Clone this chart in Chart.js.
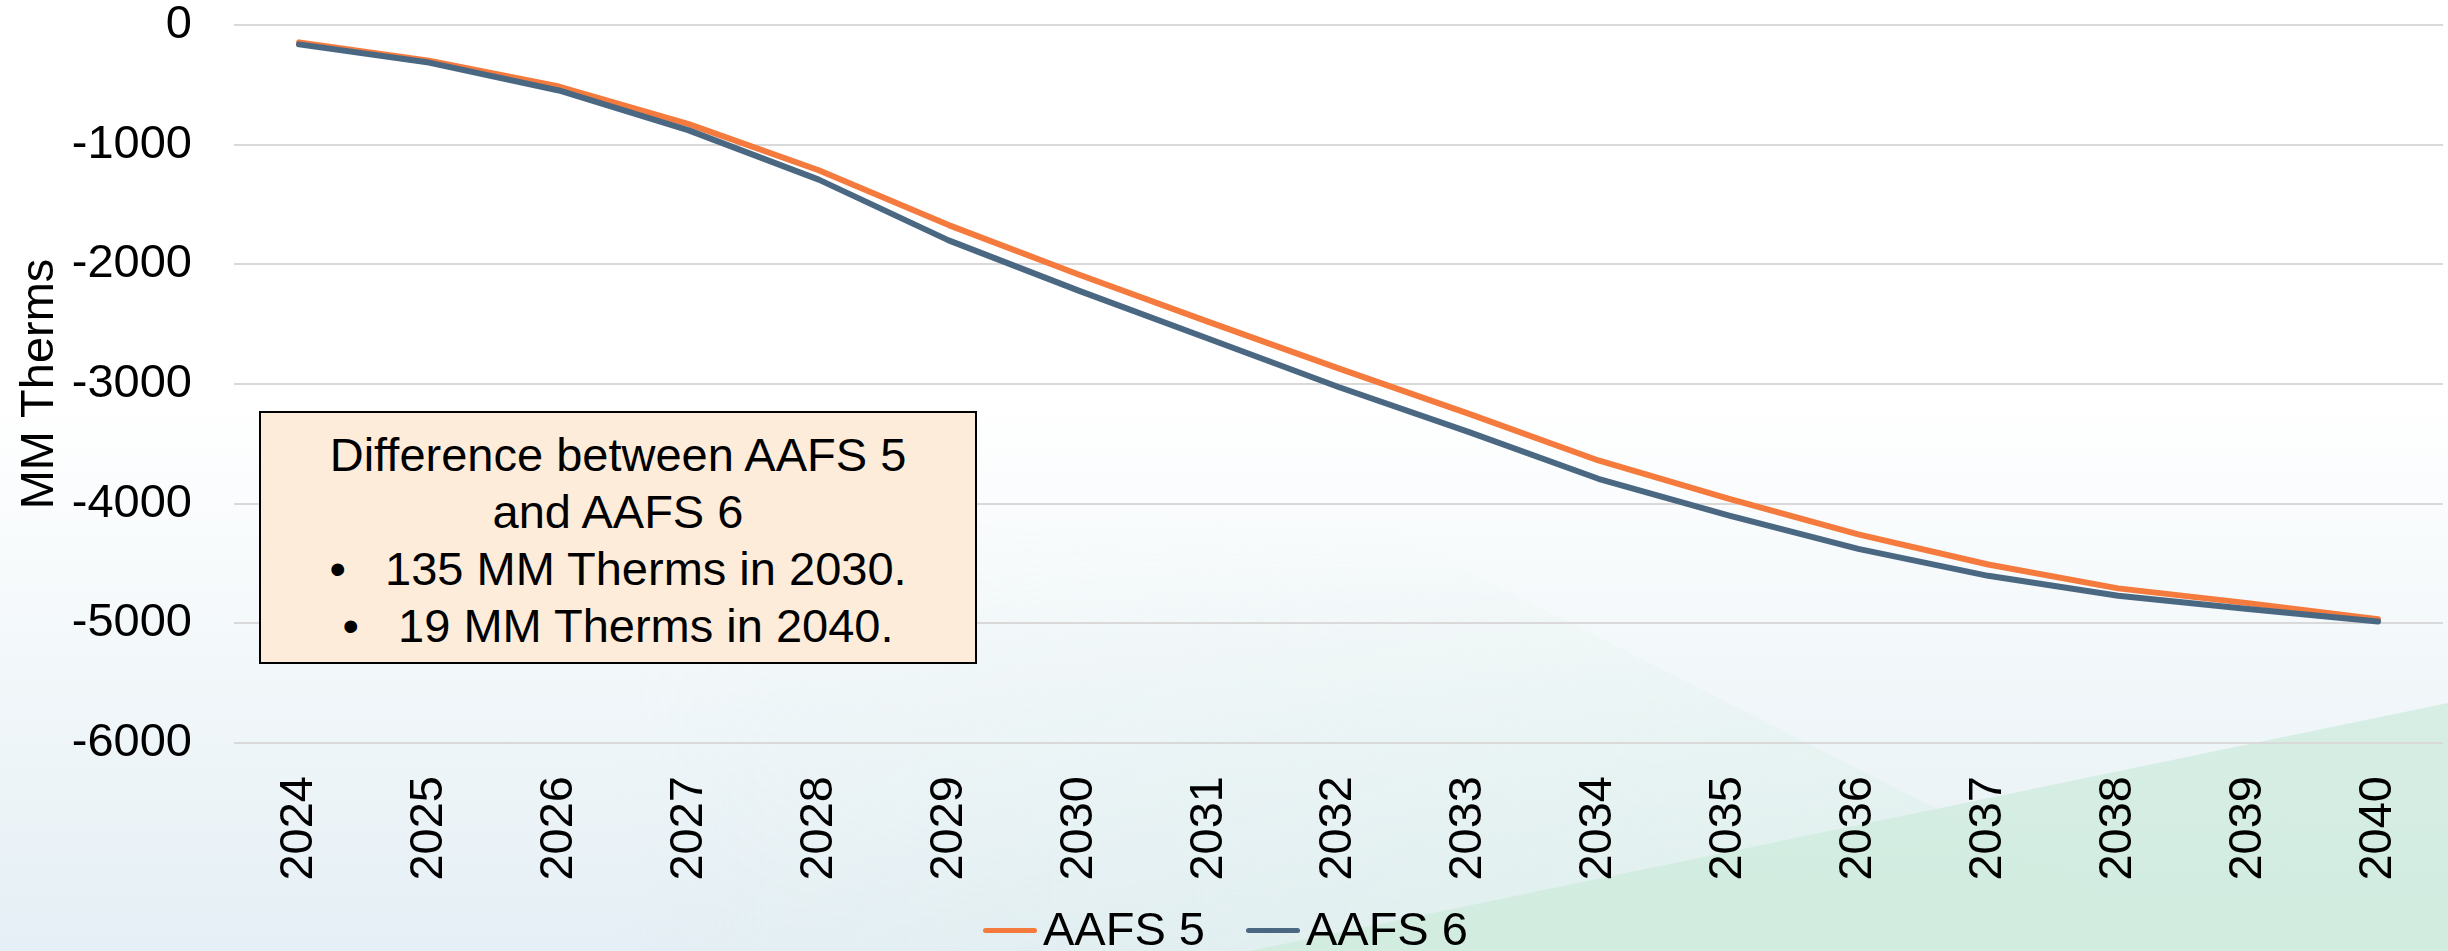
<!DOCTYPE html>
<html>
<head>
<meta charset="utf-8">
<title>AAFS 5 vs AAFS 6</title>
<script src="https://cdn.jsdelivr.net/npm/chart.js@4.4.1/dist/chart.umd.min.js"></script>
<style>
  html, body { margin: 0; padding: 0; width: 2448px; height: 951px; overflow: hidden; }
  body {
    position: relative;
    font-family: "Liberation Sans", Arial, sans-serif;
    background: linear-gradient(180deg, #ffffff 0%, #ffffff 42%, #f3f8fa 68%, #e5eff5 100%);
  }
  .bg { position: absolute; left: 0; top: 0; width: 2448px; height: 951px; pointer-events: none; }
  .wedge1 {
    clip-path: polygon(1358px 515px, 2217px 951px, 0px 951px, 0px 515px);
    background: linear-gradient(90deg, rgba(226, 243, 237, 0) 25%, rgba(218, 240, 231, 0.95) 100%);
    -webkit-mask-image: linear-gradient(180deg, rgba(0,0,0,0) 54%, rgba(0,0,0,1) 100%);
    mask-image: linear-gradient(180deg, rgba(0,0,0,0) 54%, rgba(0,0,0,1) 100%);
  }
  .wedge2 {
    clip-path: polygon(1249px 951px, 2448px 703px, 2448px 951px);
    background: linear-gradient(180deg, rgba(224, 241, 233, 0.6) 0%, rgba(210, 236, 224, 1) 100%);
  }
  #wrap { position: absolute; left: 0; top: 0; width: 2448px; height: 951px; }
  .note {
    position: absolute;
    left: 259px; top: 411px; width: 718px; height: 253px;
    box-sizing: border-box;
    border: 2px solid #000;
    background: #fdecda;
    color: #000;
    font-size: 47px;
    line-height: 57px;
    text-align: center;
    padding-top: 13px;
    white-space: pre;
  }
  .legend {
    position: absolute;
    left: 983px; top: 901px; height: 56px;
    font-size: 47px; line-height: 56px; color: #000;
    white-space: nowrap;
  }
  .legend .item { display: inline-block; }
  .legend .item + .item { margin-left: 41px; }
  .legend .swatch {
    display: inline-block; width: 54px; height: 5px; border-radius: 3px;
    vertical-align: middle; margin-right: 6px; position: relative; top: -2px;
  }
</style>
</head>
<body>
<div class="bg wedge1"></div>
<div class="bg wedge2"></div>
<div id="wrap"><canvas id="chart" width="2448" height="951"></canvas></div>
<div class="note">Difference between AAFS 5
and AAFS 6
•   135 MM Therms in 2030.
•   19 MM Therms in 2040.</div>
<div class="legend" id="legend"></div>

<script>
// Chart data
const years = ["2024", "2025", "2026", "2027", "2028", "2029", "2030", "2031", "2032",
  "2033", "2034", "2035", "2036", "2037", "2038", "2039", "2040"]
const aafs5 = [-145, -298, -514, -828, -1214, -1672, -2085, -2481, -2869,
  -3248, -3639, -3958, -4256, -4508, -4708, -4831, -4965]
const aafs6 = [-162, -314, -547, -881, -1292, -1800, -2220, -2622, -3025,
  -3400, -3792, -4097, -4378, -4603, -4769, -4881, -4984]
const yTicks = [0, -1000, -2000, -3000, -4000, -5000, -6000]

const FONT = "'Liberation Sans', Arial, sans-serif"
const ORANGE = "#f47b3d"
const SLATE = "#4b6883"

const series = [
  { label: "AAFS 5", data: aafs5, color: ORANGE, order: 1 },
  { label: "AAFS 6", data: aafs6, color: SLATE, order: 0 },
]

// Legend built as HTML so the swatch/text spacing matches
const legendEl = document.getElementById("legend")
series.forEach((s) => {
  const item = document.createElement("span")
  item.className = "item"
  item.innerHTML = `<span class="swatch" style="background:${s.color}"></span>${s.label}`
  legendEl.appendChild(item)
})

const ctx = document.getElementById("chart").getContext("2d")

new Chart(ctx, {
  type: "line",
  data: {
    labels: years,
    datasets: series.map((s) => ({
      label: s.label,
      data: s.data,
      borderColor: s.color,
      backgroundColor: s.color,
      borderWidth: 6,
      borderCapStyle: "round",
      borderJoinStyle: "round",
      tension: 0,
      pointRadius: 0,
      order: s.order,
    })),
  },
  options: {
    responsive: false,
    animation: false,
    layout: { padding: { left: 0, right: 5, top: 0, bottom: 0 } },
    plugins: {
      tooltip: { enabled: false },
      legend: { display: false },
    },
    scales: {
      x: {
        offset: true,
        afterFit: (scale) => {
          scale.height = 208
          scale.paddingLeft = 0
          scale.paddingRight = 0
        },
        grid: { display: false, drawTicks: false },
        border: { display: false },
        ticks: {
          color: "#000",
          font: { family: FONT, size: 47 },
          minRotation: 90,
          maxRotation: 90,
          padding: 33,
          autoSkip: false,
        },
      },
      y: {
        min: -6000,
        max: 0,
        afterBuildTicks: (scale) => {
          scale.ticks = yTicks.map((v) => ({ value: v }))
        },
        afterFit: (scale) => {
          scale.width = 234
          scale.paddingTop = 25
          scale.paddingBottom = 0
        },
        grid: { color: "#d9d9d9", lineWidth: 2, drawTicks: false },
        border: { display: false },
        ticks: {
          color: "#000",
          font: { family: FONT, size: 47 },
          padding: 42,
          callback: (value) => String(value),
        },
        title: {
          display: true,
          text: "MM Therms",
          color: "#000",
          font: { family: FONT, size: 47 },
          padding: { top: 12, bottom: 0 },
        },
      },
    },
  },
})
</script>
</body>
</html>
